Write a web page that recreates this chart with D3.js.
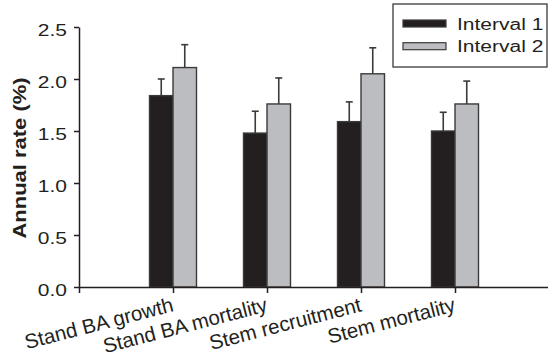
<!DOCTYPE html>
<html>
<head>
<meta charset="utf-8">
<script src="https://cdn.jsdelivr.net/npm/d3@7"></script>
<style>
  body { margin: 0; background: #fff; }
  svg { display: block; }
  text { font-family: "Liberation Sans", Arial, Helvetica, sans-serif; fill: #231f20; }
</style>
</head>
<body>
<div id="chart"></div>
<script>
// data
var categories = ["Stand BA growth", "Stand BA mortality", "Stem recruitment", "Stem mortality"];
var seriesNames = ["Interval 1", "Interval 2"];
var interval1 = [1.84, 1.48, 1.59, 1.50];
var interval1Err = [0.16, 0.21, 0.19, 0.18];
var interval2 = [2.11, 1.76, 2.05, 1.76];
var interval2Err = [0.22, 0.25, 0.25, 0.22];
var yTicks = [0, 0.5, 1.0, 1.5, 2.0, 2.5];

var colors = {"Interval 1": "#231f20", "Interval 2": "#bcbdc0"};
var ink = "#231f20";

var width = 548, height = 361;
var mLeft = 79, mRight = 549, mTop = 27, mBottom = 287;
var squish = 0.78; // tick and legend text in the figure is flattened vertically

var svg = d3.select("#chart").append("svg")
    .attr("width", width)
    .attr("height", height);

var x = d3.scalePoint().domain(categories).range([mLeft, mRight]).padding(1);
var xInner = d3.scaleBand().domain(seriesNames).range([-23.5, 23.5]);
var y = d3.scaleLinear().domain([0, 2.5]).range([mBottom, mTop]);

// rows for bars
var rows = [];
categories.forEach(function(c, i) {
  rows.push({cat: c, s: "Interval 1", v: interval1[i], e: interval1Err[i]});
  rows.push({cat: c, s: "Interval 2", v: interval2[i], e: interval2Err[i]});
});

// error bars (upper only), drawn under the bars
var eb = svg.append("g").attr("stroke", "#3a3a3a").attr("stroke-width", 1.6);
rows.forEach(function(d) {
  var cx = x(d.cat) + xInner(d.s) + xInner.bandwidth() / 2;
  eb.append("line").attr("x1", cx).attr("x2", cx).attr("y1", y(d.v)).attr("y2", y(d.v + d.e));
  eb.append("line").attr("x1", cx - 3.5).attr("x2", cx + 3.5).attr("y1", y(d.v + d.e)).attr("y2", y(d.v + d.e));
});

// bars
svg.append("g").selectAll("rect")
  .data(rows)
  .enter()
  .append("rect")
    .attr("x", function(d) { return x(d.cat) + xInner(d.s); })
    .attr("y", function(d) { return y(d.v); })
    .attr("width", xInner.bandwidth())
    .attr("height", function(d) { return y(0) - y(d.v); })
    .attr("fill", function(d) { return colors[d.s]; })
    .attr("stroke", "#3a3a3a")
    .attr("stroke-width", 1.4);

// y axis
var yAxis = svg.append("g")
    .attr("transform", "translate(" + mLeft + ",0)")
    .call(d3.axisLeft(y).tickValues(yTicks).tickFormat(d3.format(".1f")).tickSize(5).tickSizeOuter(0).tickPadding(7));
yAxis.select(".domain").attr("stroke", ink).attr("stroke-width", 1.5);
yAxis.selectAll(".tick line").attr("stroke", ink).attr("stroke-width", 1.5);
yAxis.selectAll(".tick text")
    .attr("font-size", 21)
    .attr("dy", null)
    .attr("y", 0)
    .attr("transform", "translate(0,8) scale(1," + squish + ")")
    .style("fill", ink);

// x axis
var xAxis = svg.append("g")
    .attr("transform", "translate(0," + mBottom + ")")
    .call(d3.axisBottom(x).tickSize(6).tickSizeOuter(6));
xAxis.select(".domain").attr("stroke", ink).attr("stroke-width", 1.5);
xAxis.selectAll(".tick line").attr("stroke", ink).attr("stroke-width", 1.5);
xAxis.selectAll(".tick text")
    .attr("font-size", 20.5)
    .attr("dy", null)
    .attr("y", 0)
    .attr("text-anchor", "end")
    .attr("transform", "translate(1,24) rotate(-14.5)")
    .style("fill", ink);

// y title
svg.append("text")
    .attr("transform", "translate(26," + ((mTop + mBottom) / 2 + 1) + ") rotate(-90) scale(1,0.84)")
    .attr("text-anchor", "middle")
    .attr("font-size", 22)
    .attr("font-weight", "bold")
    .text("Annual rate (%)");

// legend
var legend = svg.append("g");
legend.append("rect")
    .attr("x", 393).attr("y", 4)
    .attr("width", 154).attr("height", 63)
    .attr("fill", "#fff")
    .attr("stroke", "#3a3a3a")
    .attr("stroke-width", 1.3);
var lg = legend.selectAll("g.item")
  .data(seriesNames)
  .enter()
  .append("g")
    .attr("class", "item")
    .attr("transform", function(d, i) { return "translate(403," + (20 + i * 22.7) + ")"; });
lg.append("rect")
    .attr("width", 43).attr("height", 7)
    .attr("fill", function(d) { return colors[d]; })
    .attr("stroke", "#3a3a3a")
    .attr("stroke-width", 1.2);
lg.append("text")
    .attr("transform", "translate(54,9.5) scale(1," + squish + ")")
    .attr("font-size", 21)
    .text(function(d) { return d; });
</script>
</body>
</html>
